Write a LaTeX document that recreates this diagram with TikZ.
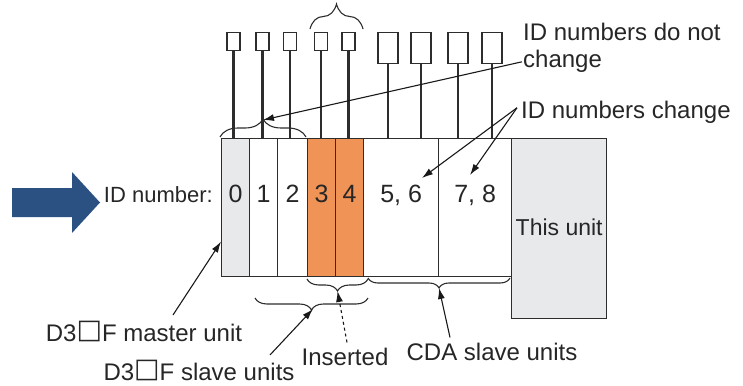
\documentclass[tikz,border=0pt]{standalone}
\usepackage{fontspec}
\setmainfont{Liberation Sans}
\newfontfamily\symfont{DejaVu Sans}
\usetikzlibrary{positioning,calc,decorations.pathreplacing,arrows.meta}
\definecolor{idblue}{RGB}{42,81,129}
\definecolor{insorange}{RGB}{239,147,86}
\definecolor{unitgray}{RGB}{232,233,235}
\definecolor{edgegray}{RGB}{45,45,45}
\newcommand{\sqbox}{\raisebox{2.5pt}{\symfont\fontsize{27}{27}\selectfont □}}

\begin{document}
\begin{tikzpicture}[x=1pt,y=-1pt,
    unitbox/.style={draw=edgegray, line width=1.3pt, inner sep=0pt, anchor=north west, minimum height=138},
    pin/.style={draw=edgegray, line width=1.1pt, inner sep=0pt, minimum width=13, minimum height=18, anchor=north},
    bigpin/.style={pin, minimum width=20, minimum height=31},
    txt/.style={font=\fontsize{24}{28}\selectfont, inner sep=0pt, text=black!85},
    brc/.style={decorate, decoration={brace, amplitude=#1}, draw=edgegray, line width=1.1pt},
    arr/.style={-{Latex[length=11pt,width=7pt]}, line width=1.1pt, draw=black!90}]
    \useasboundingbox (0,0) rectangle (743,385);

    % the units
    \node[unitbox, fill=unitgray, minimum width=28] (u0) at (221,138) {};
    \node[unitbox, minimum width=28] (u1) at (249,138) {};
    \node[unitbox, minimum width=30] (u2) at (277,138) {};
    \node[unitbox, fill=insorange, minimum width=28] (u3) at (307,138) {};
    \node[unitbox, fill=insorange, minimum width=28] (u4) at (335,138) {};
    \node[unitbox, minimum width=75] (u5) at (363,138) {};
    \node[unitbox, minimum width=73] (u7) at (438,138) {};
    \node[unitbox, fill=unitgray, minimum width=95, minimum height=180] (me) at (511,138) {};
    \node[txt, font=\fontsize{23}{27}\selectfont, anchor=base] at (me.center |- 0,235) {This unit};

    % ID numbers
    \node[txt, font=\fontsize{22}{26}\selectfont, anchor=base east] (idn) at (213,202) {ID number:};
    \foreach \u/\t in {u0/0, u1/1, u2/2, u3/3, u4/4, u5/{5, 6}, u7/{7, 8}}
        \node[txt, font=\fontsize{25}{29}\selectfont, anchor=base] at (\u.center |- 0,202) {\t};

    % connectors on top
    \foreach \p/\x/\u in {p0/233.5/u0, p1/262.5/u1, p2/290/u2, p3/321/u3, p4/348.5/u4}{
        \node[pin] (\p) at (\x,32) {};
        \draw[edgegray, line width=2.2pt] (\p.south) -- (\p.south |- \u.north);
    }
    \foreach \p/\x/\u in {p5/388/u5, p6/421/u5, p7/458/u7, p8/492/u7}{
        \node[bigpin] (\p) at (\x,32) {};
        \draw[edgegray, line width=1.1pt] (\p.south) -- (\p.south |- \u.north);
    }

    % blue arrow
    \fill[idblue] (12,188) -- (72,188) -- (72,172) -- (100,202.5)
                  -- (72,233) -- (72,217) -- (12,217) -- cycle;

    % braces
    \draw[brc=25] (310,29) -- (363,29);
    \draw[brc=18] (220,137) -- (306,137);
    \draw[brc=12] (368,279) -- (307,279);
    \draw[brc=10] (510,278) -- (368,278);
    \draw[brc=12] (368,298) -- (255,298);
    \coordinate (tip02) at (263,120);
    \coordinate (tip34) at (337.5,291);
    \coordinate (tipcda) at (439,288);
    \coordinate (tipslv) at (313,309);
    \coordinate (in56) at (422,178);
    \coordinate (in78) at (470,175);

    % texts
    \node[txt, anchor=base west] (nc1) at (523,41) {ID numbers do not};
    \node[txt, anchor=base west] (nc2) at (523,68) {change};
    \node[txt, anchor=base west] (chg) at (521,118) {ID numbers change};
    \node[txt, anchor=base] (mst) at (144,341) {D3\sqbox F master unit};
    \node[txt, anchor=base] (slv) at (199,380) {D3\sqbox F slave units};
    \node[txt, anchor=base] (ins) at (345,365) {Inserted};
    \node[txt, anchor=base] (cda) at (492,360) {CDA slave units};

    % arrows
    \draw[arr] ([xshift=-1pt]nc2.west) -- (tip02);
    \draw[arr] ([xshift=-4pt,yshift=4pt]chg.west) -- (in56);
    \draw[arr] ([xshift=-4pt,yshift=4pt]chg.west) -- (in78);
    \draw[arr] ([xshift=29pt,yshift=6pt]mst.north) -- ([yshift=-34pt]u0.west);
    \draw[arr] ([xshift=71pt,yshift=5pt]slv.north) -- (tipslv);
    \draw[arr, dashed] ([xshift=2pt,yshift=5pt]ins.north) -- (tip34);
    \draw[arr] ([xshift=-42pt,yshift=5pt]cda.north) -- (tipcda);
\end{tikzpicture}
\end{document}
